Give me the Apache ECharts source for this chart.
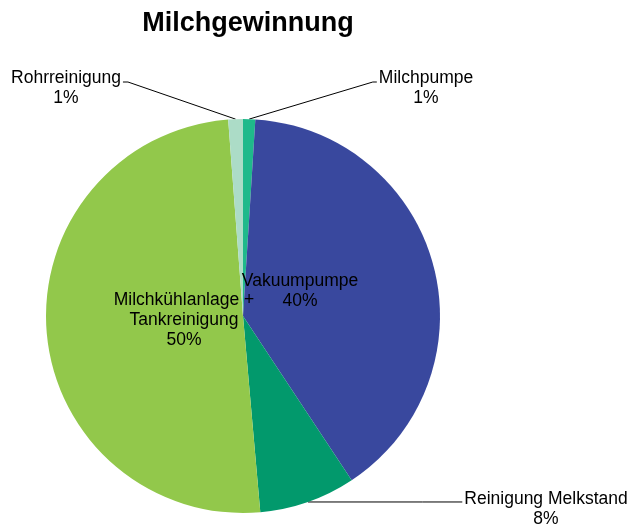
<!DOCTYPE html>
<html>
<head>
<meta charset="utf-8">
<script src="https://cdn.jsdelivr.net/npm/echarts@6/dist/echarts.min.js"></script>
<style>html,body{margin:0;padding:0;background:#fff;}#c{width:633px;height:526px;}</style>
</head>
<body>
<div id="c"></div>
<script>
var categories = ['Milchpumpe', 'Vakuumpumpe', 'Reinigung Melkstand', 'Milchkühlanlage +\nTankreinigung', 'Rohrreinigung'];
var values = [1.0, 39.7, 7.9, 50.2, 1.2];
var colors = ['#1fb98b', '#39489e', '#02996c', '#92c84b', '#acdcc7'];
var labelInside = [false, true, false, true, false];
// label anchor positions (label layout only); side = where the guide line attaches
var labelPos = [
  {x: 426, y: 88, side: 'left'},
  {x: 300, y: 291},
  {x: 546, y: 509, side: 'left'},
  {x: 184, y: 320},
  {x: 66, y: 88, side: 'right'}
];

var chart = echarts.init(document.getElementById('c'));
var data = categories.map(function (c, i) {
  return {
    name: c,
    value: values[i],
    itemStyle: {color: colors[i]},
    label: {position: labelInside[i] ? 'inside' : 'outside'},
    labelLine: {show: !labelInside[i]}
  };
});
chart.setOption({
  animation: false,
  title: {
    text: 'Milchgewinnung',
    left: 243, top: 5,
    textAlign: 'center',
    textStyle: {fontFamily: 'Liberation Sans', fontWeight: 'bold', fontSize: 27, color: '#000'}
  },
  series: [{
    type: 'pie',
    center: [243, 316],
    radius: [0, 197],
    startAngle: 90,
    clockwise: true,
    avoidLabelOverlap: false,
    itemStyle: {borderWidth: 0},
    label: {
      fontFamily: 'Liberation Sans',
      fontSize: 17.5,
      color: '#000',
      lineHeight: 20,
      align: 'center',
      formatter: function (p) { return p.name + '\n' + Math.round(p.percent) + '%'; }
    },
    labelLine: {lineStyle: {color: '#000', width: 1}, length: 20, length2: 10},
    labelLayout: function (p) {
      var lp = labelPos[p.dataIndex];
      var res = {x: lp.x, y: lp.y, align: 'center', verticalAlign: 'middle'};
      if (lp.side && p.labelLinePoints) {
        var w = p.labelRect.width;
        var start = p.labelLinePoints[0];
        var ey = lp.y - 6;
        var ex, elbowX;
        if (lp.side === 'left') { ex = lp.x - w / 2 - 2; elbowX = ex - 4; }
        else { ex = lp.x + w / 2 + 2; elbowX = ex + 5; }
        if (p.dataIndex === 2) { ey = start[1]; elbowX = ex - 40; }
        res.labelLinePoints = [start, [elbowX, ey], [ex, ey]];
      }
      return res;
    },
    data: data
  }]
});
</script>
</body>
</html>
